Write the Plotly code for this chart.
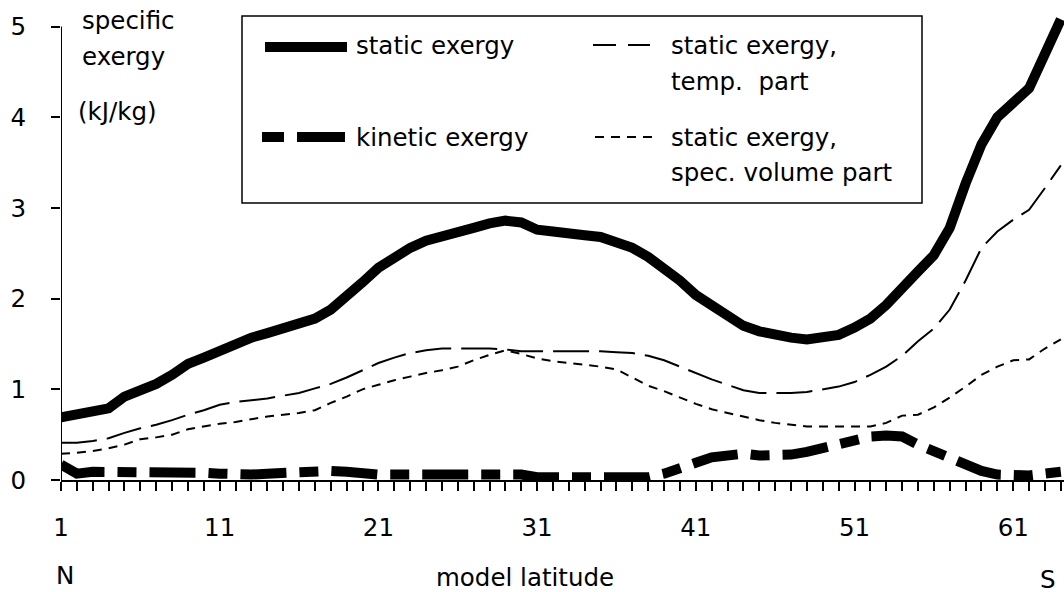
import plotly.graph_objects as go

# ---- data -------------------------------------------------------------
latitude = list(range(1, 65))

static_exergy = [
    0.69, 0.72, 0.74, 0.79, 0.92, 0.98, 1.06, 1.16, 1.28, 1.35,
    1.42, 1.51, 1.57, 1.62, 1.67, 1.72, 1.78, 1.88, 2.02, 2.18,
    2.34, 2.46, 2.56, 2.64, 2.68, 2.72, 2.78, 2.83, 2.86, 2.84,
    2.76, 2.74, 2.73, 2.70, 2.68, 2.62, 2.56, 2.46, 2.34, 2.20,
    2.04, 1.92, 1.80, 1.70, 1.64, 1.60, 1.57, 1.55, 1.57, 1.60,
    1.68, 1.78, 1.93, 2.10, 2.30, 2.48, 2.78, 3.27, 3.70, 4.00,
    4.15, 4.32, 4.70, 5.08,
]

temp_part = [
    0.41, 0.41, 0.43, 0.46, 0.52, 0.57, 0.61, 0.66, 0.72, 0.77,
    0.83, 0.86, 0.88, 0.90, 0.93, 0.96, 1.01, 1.06, 1.13, 1.21,
    1.29, 1.35, 1.40, 1.43, 1.45, 1.45, 1.45, 1.45, 1.44, 1.42,
    1.42, 1.42, 1.42, 1.42, 1.42, 1.41, 1.40, 1.37, 1.32, 1.25,
    1.18, 1.11, 1.05, 0.99, 0.96, 0.96, 0.96, 0.97, 1.00, 1.03,
    1.08, 1.16, 1.25, 1.37, 1.53, 1.67, 1.88, 2.20, 2.56, 2.74,
    2.87, 2.98, 3.22, 3.47,
]

spec_volume_part = [
    0.29, 0.30, 0.32, 0.35, 0.39, 0.45, 0.47, 0.50, 0.56, 0.59,
    0.62, 0.64, 0.67, 0.70, 0.72, 0.74, 0.77, 0.85, 0.92, 1.00,
    1.05, 1.10, 1.14, 1.18, 1.21, 1.25, 1.32, 1.38, 1.43, 1.39,
    1.34, 1.31, 1.29, 1.27, 1.25, 1.22, 1.13, 1.04, 0.98, 0.91,
    0.84, 0.78, 0.74, 0.70, 0.66, 0.63, 0.61, 0.59, 0.59, 0.59,
    0.59, 0.59, 0.63, 0.71, 0.72, 0.80, 0.91, 1.03, 1.16, 1.25,
    1.32, 1.33, 1.45, 1.55,
]

kinetic_exergy = [
    0.17, 0.07, 0.09, 0.09, 0.10, 0.10, 0.10, 0.09, 0.08, 0.08,
    0.07, 0.06, 0.06, 0.07, 0.08, 0.09, 0.10, 0.10, 0.09, 0.07,
    0.06, 0.06, 0.06, 0.06, 0.06, 0.06, 0.06, 0.06, 0.06, 0.06,
    0.03, 0.03, 0.03, 0.03, 0.03, 0.03, 0.03, 0.03, 0.07, 0.12,
    0.19, 0.25, 0.28, 0.29, 0.27, 0.27, 0.28, 0.31, 0.35, 0.40,
    0.45, 0.48, 0.49, 0.48, 0.39, 0.31, 0.24, 0.16, 0.10, 0.06,
    0.05, 0.05, 0.07, 0.09,
]

y_tick_values = [0, 1, 2, 3, 4, 5]
x_label_values = [1, 11, 21, 31, 41, 51, 61]

# ---- styling ----------------------------------------------------------
FONT = "DejaVu Sans"
FS = 24.5
BLACK = "#000000"

W, H = 1064, 592
ML, MR, MT, MB = 61, 0, 13, 112
PW, PH = W - ML - MR, H - MT - MB


def pxx(x):
    return (x - ML) / PW


def pxy(y):
    return (H - MB - y) / PH


fig = go.Figure()

fig.add_trace(go.Scatter(
    x=latitude, y=temp_part, mode="lines",
    line=dict(color=BLACK, width=2, dash="36px,10px"),
    name="static exergy, temp. part"))
fig.add_trace(go.Scatter(
    x=latitude, y=spec_volume_part, mode="lines",
    line=dict(color=BLACK, width=2, dash="9px,7px"),
    name="static exergy, spec. volume part"))
fig.add_trace(go.Scatter(
    x=latitude, y=kinetic_exergy, mode="lines",
    line=dict(color=BLACK, width=10, dash="46px,13px,19px,13px"),
    name="kinetic exergy"))
fig.add_trace(go.Scatter(
    x=latitude, y=static_exergy, mode="lines",
    line=dict(color=BLACK, width=10),
    name="static exergy"))

tick_text = [str(v) if v in x_label_values else "" for v in latitude]

fig.update_layout(
    width=W, height=H,
    margin=dict(l=ML, r=MR, t=MT, b=MB, pad=0),
    paper_bgcolor="white", plot_bgcolor="white",
    showlegend=False,
    font=dict(family=FONT, size=FS, color=BLACK),
    xaxis=dict(
        range=[1, 64.2], tickmode="array", tickvals=latitude, ticktext=tick_text,
        ticks="outside", ticklen=9, tickwidth=2, tickcolor=BLACK,
        showline=True, linewidth=2, linecolor=BLACK,
        showgrid=False, zeroline=False, ticklabelstandoff=16,
        tickfont=dict(family=FONT, size=FS, color=BLACK),
    ),
    yaxis=dict(
        range=[0, 5.15], tickmode="array", tickvals=y_tick_values,
        ticks="outside", ticklen=9, tickwidth=2, tickcolor=BLACK,
        showline=False, showgrid=False, zeroline=False, ticklabelstandoff=20,
        tickfont=dict(family=FONT, size=FS, color=BLACK),
    ),
)

# y axis line up to the top tick
fig.add_shape(type="line", xref="x", yref="y", x0=1, x1=1, y0=0, y1=5,
              line=dict(color=BLACK, width=2))

# legend frame
fig.add_shape(type="rect", xref="paper", yref="paper",
              x0=pxx(242), x1=pxx(922), y0=pxy(203), y1=pxy(16),
              line=dict(color=BLACK, width=1.5), fillcolor="rgba(0,0,0,0)")

# legend line samples
samples = [
    (265, 347, 47, 10, "solid"),
    (593, 650, 45, 2, "23px,12px"),
    (262, 347, 137, 10, "22px,13px,48px,13px"),
    (595, 652, 137, 2, "9px,7px"),
]
for x0, x1, y, w, d in samples:
    fig.add_shape(type="line", xref="paper", yref="paper",
                  x0=pxx(x0), x1=pxx(x1), y0=pxy(y), y1=pxy(y),
                  line=dict(color=BLACK, width=w, dash=d))


def label(text, x, y, xanchor="left"):
    fig.add_annotation(text=text, xref="paper", yref="paper",
                       x=pxx(x), y=pxy(y), xanchor=xanchor, yanchor="middle",
                       showarrow=False, font=dict(family=FONT, size=FS, color=BLACK))


label("static exergy", 354, 46)
label("kinetic exergy", 354, 137)
label("static exergy,", 669, 46)
label("temp.  part", 669, 81)
label("static exergy,", 669, 137)
label("spec. volume part", 669, 172)

label("specific", 80, 20)
label("exergy", 80, 56)
label("(kJ/kg)", 76, 111)

label("model latitude", 525, 577, "center")
label("N", 54, 575)
label("S", 1058, 579, "right")

fig.write_html("out.html")
